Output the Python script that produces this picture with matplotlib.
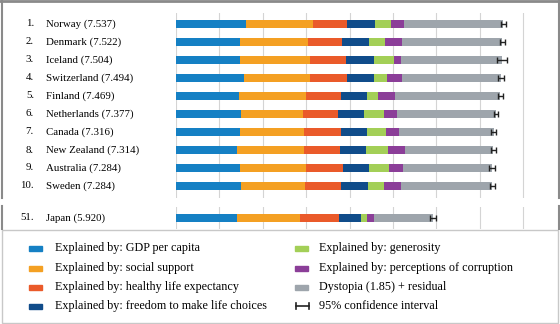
import numpy as np
import matplotlib.pyplot as plt
from matplotlib.lines import Line2D
from matplotlib.patches import Rectangle

# top 10 countries + Japan (scores and components)
ranks = ["1.", "2.", "3.", "4.", "5.", "6.", "7.", "8.", "9.", "10."]
countries = ["Norway", "Denmark", "Iceland", "Switzerland", "Finland",
             "Netherlands", "Canada", "New Zealand", "Australia", "Sweden"]
scores = [7.537, 7.522, 7.504, 7.494, 7.469, 7.377, 7.316, 7.314, 7.284, 7.284]
gdp = [1.616, 1.482, 1.481, 1.565, 1.444, 1.504, 1.479, 1.406, 1.484, 1.494]
social = [1.534, 1.551, 1.611, 1.517, 1.540, 1.429, 1.481, 1.548, 1.510, 1.478]
health = [0.797, 0.793, 0.834, 0.858, 0.809, 0.811, 0.835, 0.817, 0.844, 0.831]
freedom = [0.635, 0.626, 0.627, 0.620, 0.618, 0.585, 0.611, 0.614, 0.602, 0.613]
generosity = [0.362, 0.355, 0.476, 0.291, 0.245, 0.470, 0.436, 0.500, 0.478, 0.385]
corruption = [0.316, 0.401, 0.154, 0.367, 0.383, 0.283, 0.287, 0.383, 0.301, 0.384]
dystopia = [2.277, 2.314, 2.323, 2.277, 2.430, 2.295, 2.187, 2.046, 2.066, 2.097]
ci_low = [7.480, 7.462, 7.386, 7.426, 7.410, 7.327, 7.248, 7.248, 7.212, 7.224]
ci_high = [7.594, 7.582, 7.622, 7.562, 7.528, 7.427, 7.384, 7.380, 7.356, 7.344]

jp_rank = "51."
jp_name = "Japan"
jp_score = 5.920
jp_parts = [1.417, 1.436, 0.913, 0.506, 0.120, 0.164, 1.364]
jp_ci = (5.846, 5.994)

labels = ["Explained by: GDP per capita", "Explained by: social support",
          "Explained by: healthy life expectancy",
          "Explained by: freedom to make life choices",
          "Explained by: generosity", "Explained by: perceptions of corruption",
          "Dystopia (1.85) + residual"]
colors = ['#1580c4', '#f4a023', '#ea5a2a', '#104c8a', '#a3cf57', '#8b3e98', '#9ea5ac']

plt.rcParams['font.family'] = ['Liberation Serif', 'DejaVu Serif']

W, H = 560, 324
fig = plt.figure(figsize=(5.6, 3.24), dpi=100)

x0 = 176
ppu = 43.4
xr = 545
xlim = (0, (xr - x0) / ppu)


def make_ax(top, bottom):
    return fig.add_axes([x0 / W, 1 - bottom / H, (xr - x0) / W, (bottom - top) / H])


def style(ax):
    ax.set_xlim(*xlim)
    for s in ax.spines.values():
        s.set_visible(False)
    ax.set_xticks([])
    ax.set_yticks([])
    for g in range(9):
        ax.axvline(g, color='#d4d4d4', lw=0.8, zorder=0)


def fs(v):
    return "(%.3f)" % v


ax = make_ax(13, 198)
style(ax)
y = np.arange(len(countries))
parts = [gdp, social, health, freedom, generosity, corruption, dystopia]
left = np.zeros(len(countries))
for p, c in zip(parts, colors):
    ax.barh(y, p, left=left, height=0.4, color=c, zorder=2)
    left += np.array(p)
err = [np.array(scores) - np.array(ci_low), np.array(ci_high) - np.array(scores)]
ax.errorbar(scores, y, xerr=err, fmt='none', ecolor='#222222', elinewidth=1,
            capsize=2, capthick=1, zorder=3)
ax.set_ylim(9.67, -0.61)

ax2 = make_ax(207, 229)
style(ax2)
l = 0
for p, c in zip(jp_parts, colors):
    ax2.barh(0, p, left=l, height=0.4, color=c, zorder=2)
    l += p
ax2.errorbar([jp_score], [0], xerr=[[jp_score - jp_ci[0]], [jp_ci[1] - jp_score]],
             fmt='none', ecolor='#222222', elinewidth=1, capsize=2, capthick=1, zorder=3)
ax2.set_ylim(0.61, -0.61)

# country labels
lfs = 7.8
for i in range(len(countries)):
    yy = 1 - (24 + 18 * i) / H
    fig.text(34 / W, yy, ranks[i], ha='right', va='center', fontsize=lfs)
    fig.text(46 / W, yy, countries[i] + " " + fs(scores[i]), ha='left', va='center', fontsize=lfs)
fig.text(34 / W, 1 - 218 / H, jp_rank, ha='right', va='center', fontsize=lfs)
fig.text(46 / W, 1 - 218 / H, jp_name + " " + fs(jp_score), ha='left', va='center', fontsize=lfs)

# frame lines
fc = '#8a8a8a'
fig.add_artist(Line2D([0, 1], [1 - 1 / H, 1 - 1 / H], color=fc, lw=2, transform=fig.transFigure))
for xx in [1.5, 558.5]:
    fig.add_artist(Line2D([xx / W, xx / W], [1, 1 - 198 / H], color=fc, lw=1.5, transform=fig.transFigure))
    fig.add_artist(Line2D([xx / W, xx / W], [1 - 206 / H, 1 - 229 / H], color=fc, lw=1.5, transform=fig.transFigure))

# legend box
fig.add_artist(Rectangle((2 / W, 1 / H), 556 / W, (323 - 230) / H, fill=False,
                         edgecolor='#c8c8c8', lw=1, transform=fig.transFigure))

rows = [248, 268, 287, 306]
for k, (lab, c) in enumerate(zip(labels, colors)):
    if k < 4:
        px, tx, yy = 29, 55, rows[k]
    else:
        px, tx, yy = 295, 319, rows[k - 4]
    fig.add_artist(Rectangle((px / W, 1 - (yy + 2.5) / H), 13 / W, 5 / H,
                             color=c, transform=fig.transFigure))
    fig.text(tx / W, 1 - yy / H, lab, ha='left', va='center', fontsize=8.7)
# confidence interval legend
yy = rows[3]
fig.add_artist(Line2D([296 / W, 309 / W], [1 - yy / H] * 2, color='#222222', lw=1.2,
                      transform=fig.transFigure))
for xx in [296, 309]:
    fig.add_artist(Line2D([xx / W] * 2, [1 - (yy - 3) / H, 1 - (yy + 3) / H],
                          color='#222222', lw=1.2, transform=fig.transFigure))
fig.text(319 / W, 1 - yy / H, "95% confidence interval", ha='left', va='center', fontsize=8.7)

fig.savefig("out.png", dpi=100)
